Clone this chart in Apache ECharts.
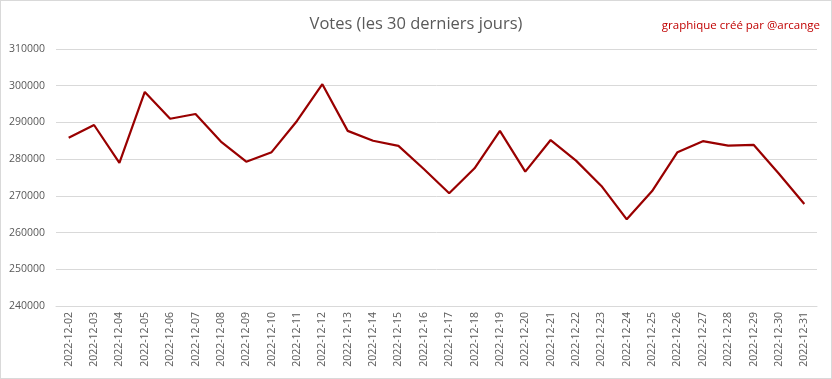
<!DOCTYPE html>
<html>
<head>
<meta charset="utf-8">
<script src="https://cdn.jsdelivr.net/npm/echarts@6/dist/echarts.min.js"></script>
<style>
html,body{margin:0;padding:0;background:#fff;}
#c{position:absolute;left:0;top:0;width:830px;height:377px;border:1px solid #d9d9d9;}
</style>
</head>
<body>
<div id="c"></div>
<script>
const categories = ["2022-12-02","2022-12-03","2022-12-04","2022-12-05","2022-12-06","2022-12-07","2022-12-08","2022-12-09","2022-12-10","2022-12-11","2022-12-12","2022-12-13","2022-12-14","2022-12-15","2022-12-16","2022-12-17","2022-12-18","2022-12-19","2022-12-20","2022-12-21","2022-12-22","2022-12-23","2022-12-24","2022-12-25","2022-12-26","2022-12-27","2022-12-28","2022-12-29","2022-12-30","2022-12-31"];
const votes = [285800,289300,279000,298300,291000,292300,284800,279300,281900,290400,300400,287700,285000,283600,277300,270700,277500,287700,276600,285200,279600,272700,263600,271300,281900,284900,283700,283900,276000,267800];
const titleText = "Votes (les 30 derniers jours)";
const creditText = "graphique créé par @arcange";

const chart = echarts.init(document.getElementById('c'), null, {renderer:'canvas'});
chart.setOption({
  animation:false,
  backgroundColor:'#fff',
  title:[
    {text:titleText,left:'center',top:10,textStyle:{fontFamily:'Open Sans',fontSize:16.5,fontWeight:'normal',color:'#595959'}},
    {text:creditText,right:6,top:14,textStyle:{fontFamily:'Open Sans',fontSize:11.5,fontWeight:'normal',color:'#C00000'}}
  ],
  grid:{left:55,right:14,top:48,bottom:72,containLabel:false},
  xAxis:{
    type:'category',data:categories,boundaryGap:true,
    axisLine:{show:true,lineStyle:{color:'#d9d9d9'}},
    axisTick:{show:false},
    axisLabel:{rotate:90,interval:0,fontFamily:'Open Sans',fontSize:10.5,color:'#595959',margin:6}
  },
  yAxis:{
    type:'value',min:240000,max:310000,interval:10000,
    axisLine:{show:false},axisTick:{show:false},
    splitLine:{lineStyle:{color:'#d9d9d9'}},
    axisLabel:{fontFamily:'Open Sans',fontSize:10.5,color:'#595959',margin:11,formatter:function(v){return String(v);}}
  },
  series:[{type:'line',data:votes,symbol:'none',lineStyle:{color:'#990000',width:2.2}}]
});
</script>
</body>
</html>
